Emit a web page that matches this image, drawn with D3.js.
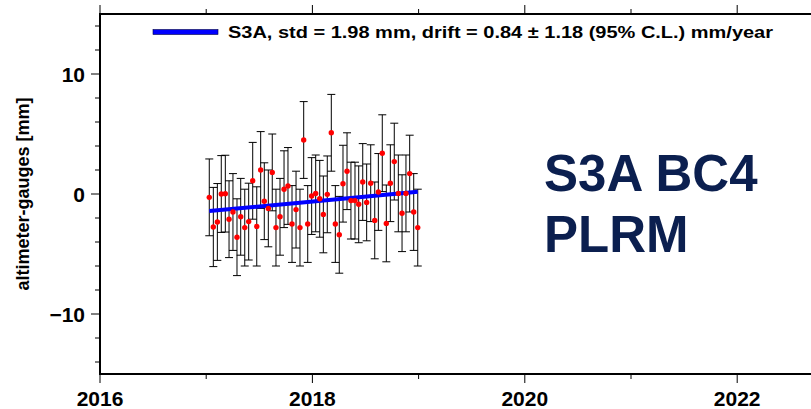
<!DOCTYPE html>
<html>
<head>
<meta charset="utf-8">
<script src="https://cdn.jsdelivr.net/npm/d3@7"></script>
<style>
  html, body { margin: 0; padding: 0; background: #fff; }
  svg { display: block; font-family: "Liberation Sans", Arial, sans-serif; }
</style>
</head>
<body>
<svg id="chart" width="811" height="409"></svg>
<script>
// ---- data ----
var years = [2017.029, 2017.067, 2017.105, 2017.142, 2017.180, 2017.215, 2017.252, 2017.290, 2017.325,
             2017.363, 2017.400, 2017.438, 2017.476, 2017.513, 2017.547, 2017.585, 2017.622, 2017.657,
             2017.695, 2017.733, 2017.770, 2017.808, 2017.846, 2017.883, 2017.918, 2017.956, 2017.993,
             2018.031, 2018.069, 2018.103, 2018.140, 2018.178, 2018.216, 2018.253, 2018.288, 2018.326,
             2018.363, 2018.401, 2018.436, 2018.474, 2018.511, 2018.549, 2018.587, 2018.621, 2018.658,
             2018.696, 2018.734, 2018.771, 2018.809, 2018.844, 2018.881, 2018.916, 2018.954, 2018.992];
var diffs = [-0.28, -2.75, -2.33, 0.0, 0.03, -2.1, -1.5, -3.6, -1.9,
             -2.8, -2.3, 1.1, -2.7, 2.0, -0.6, -1.2, 1.8, -2.8,
             -1.9, 0.4, 0.67, -2.5, -1.3, -2.8, 4.5, -2.5, -0.17,
             0.05, -0.4, -1.7, -0.03, 5.1, -2.5, -3.4, 0.86, 1.9,
             -0.55, -0.55, -0.86, 1.0, -0.7, 0.9, -2.2, 0.17, 3.4,
             -2.45, 0.9, 2.7, 0.05, -1.6, 0.05, 1.7, -1.5, -2.8];
var errs = [3.2, 3.3, 3.2, 3.2, 3.2, 3.2, 3.2, 3.2, 3.2,
            3.2, 3.2, 3.2, 3.3, 3.2, 3.2, 3.2, 3.2, 3.2,
            3.2, 3.2, 3.2, 3.2, 3.2, 3.2, 3.2, 3.2, 3.2,
            3.2, 3.2, 3.2, 3.2, 3.2, 3.2, 3.2, 3.2, 3.2,
            3.2, 3.2, 3.2, 3.2, 3.2, 3.2, 3.2, 3.2, 3.2,
            3.2, 3.2, 3.2, 3.2, 3.2, 3.2, 3.2, 3.2, 3.2];
var trendYears = [2017.029, 2018.992];
var trendValues = [-1.42, 0.19];
var xTicks = [2016, 2018, 2020, 2022];
var yTicks = [-10, 0, 10];
var legendText = "S3A, std = 1.98 mm, drift = 0.84 \u00b1 1.18 (95% C.L.) mm/year";
var titleLines = ["S3A BC4", "PLRM"];
var yLabel = "altimeter-gauges [mm]";

// ---- layout ----
var svg = d3.select("#chart");
var plotLeft = 100, plotTop = 14, plotBottom = 374;
var x = d3.scaleLinear().domain([2016, 2023]).range([plotLeft, plotLeft + 7 * 106.2]);
var y = d3.scaleLinear().domain([-15, 15]).range([plotBottom, plotTop]);
var plotRight = x(2023);

var pts = years.map(function(t, i) { return { t: t, v: diffs[i], e: errs[i] }; });

// ---- axes (GMT style: ticks outward on all sides) ----
var xMinor = d3.range(2016, 2024, 1);
var yMinor = d3.range(-14, 15, 2);

var gx = svg.append("g").attr("stroke", "#000").attr("stroke-width", 1);
xMinor.forEach(function(t) {
    var len = (t % 2 === 0) ? 9 : 5;
    gx.append("line").attr("x1", x(t)).attr("x2", x(t)).attr("y1", plotBottom).attr("y2", plotBottom + len);
    gx.append("line").attr("x1", x(t)).attr("x2", x(t)).attr("y1", plotTop).attr("y2", plotTop - len);
});
yMinor.forEach(function(v) {
    var len = (v % 10 === 0) ? 9 : 5;
    gx.append("line").attr("x1", plotLeft - len).attr("x2", plotLeft).attr("y1", y(v)).attr("y2", y(v));
});

// frame
svg.append("rect")
    .attr("x", plotLeft).attr("y", plotTop)
    .attr("width", plotRight - plotLeft).attr("height", plotBottom - plotTop)
    .attr("fill", "none").attr("stroke", "#000").attr("stroke-width", 2);

// tick labels
svg.selectAll(".xlab").data(xTicks).enter().append("text")
    .attr("class", "xlab")
    .attr("x", function(d) { return x(d); })
    .attr("y", 406)
    .attr("text-anchor", "middle")
    .attr("font-size", 21).attr("font-weight", "bold")
    .text(function(d) { return d; });

svg.selectAll(".ylab").data(yTicks).enter().append("text")
    .attr("class", "ylab")
    .attr("x", 85)
    .attr("y", function(d) { return y(d) + 7.5; })
    .attr("text-anchor", "end")
    .attr("font-size", 21).attr("font-weight", "bold")
    .text(function(d) { return d < 0 ? "\u2212" + Math.abs(d) : d; });

// y axis title
svg.append("text")
    .attr("transform", "translate(29," + y(0) + ") rotate(-90)")
    .attr("text-anchor", "middle")
    .attr("font-size", 18).attr("font-weight", "bold")
    .text(yLabel);

// ---- error bars ----
var bars = svg.append("g").attr("stroke", "#000").attr("stroke-width", 1).attr("fill", "none");
pts.forEach(function(d) {
    var cx = x(d.t);
    bars.append("line").attr("x1", cx).attr("x2", cx).attr("y1", y(d.v + d.e)).attr("y2", y(d.v - d.e));
    bars.append("line").attr("x1", cx - 4).attr("x2", cx + 4).attr("y1", y(d.v + d.e)).attr("y2", y(d.v + d.e));
    bars.append("line").attr("x1", cx - 4).attr("x2", cx + 4).attr("y1", y(d.v - d.e)).attr("y2", y(d.v - d.e));
});

// ---- drift line ----
var line = d3.line().x(function(d) { return x(d[0]); }).y(function(d) { return y(d[1]); });
svg.append("path")
    .datum(d3.zip(trendYears, trendValues))
    .attr("d", line)
    .attr("fill", "none").attr("stroke", "#0000ff").attr("stroke-width", 4);

// ---- points ----
svg.selectAll(".pt").data(pts).enter().append("circle")
    .attr("class", "pt")
    .attr("cx", function(d) { return x(d.t); })
    .attr("cy", function(d) { return y(d.v); })
    .attr("r", 2.7)
    .attr("fill", "#ff0000");

// ---- legend ----
svg.append("rect")
    .attr("x", 153).attr("y", 29.5).attr("width", 65).attr("height", 5)
    .attr("fill", "#0000ff").attr("stroke", "#000044").attr("stroke-width", 0.6);
svg.append("text")
    .attr("x", 228).attr("y", 38)
    .attr("font-size", 16).attr("font-weight", "bold")
    .attr("textLength", 545).attr("lengthAdjust", "spacingAndGlyphs")
    .text(legendText);

// ---- big label ----
svg.selectAll(".title").data(titleLines).enter().append("text")
    .attr("class", "title")
    .attr("x", 544)
    .attr("y", function(d, i) { return 191 + i * 61; })
    .attr("font-size", 51).attr("font-weight", "bold")
    .attr("fill", "#0b1f4f")
    .text(function(d) { return d; });
</script>
</body>
</html>
